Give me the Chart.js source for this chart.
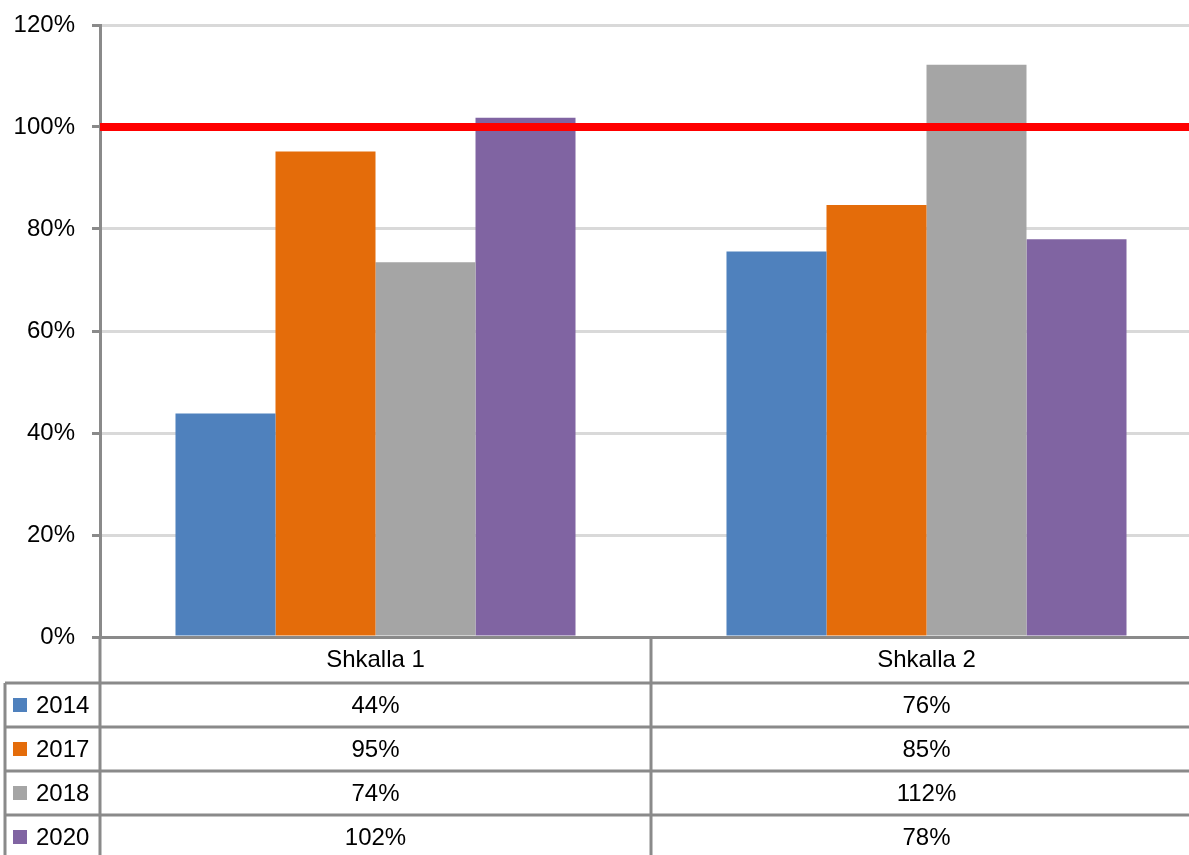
<!DOCTYPE html>
<html>
<head>
<meta charset="utf-8">
<script src="https://cdn.jsdelivr.net/npm/chart.js@4/dist/chart.umd.min.js"></script>
<style>
  html, body { margin: 0; padding: 0; background: #fff; overflow: hidden; }
  #wrap { width: 1202px; height: 855px; }
</style>
</head>
<body>
<div id="wrap"><canvas id="myChart"></canvas></div>
<script>
const categories = ['Shkalla 1', 'Shkalla 2'];
const years = ['2014', '2017', '2018', '2020'];
const values2014 = [0.438, 0.756];
const values2017 = [0.952, 0.847];
const values2018 = [0.735, 1.122];
const values2020 = [1.018, 0.78];
const yTicks = [0, 0.2, 0.4, 0.6, 0.8, 1.0, 1.2];
const targetValue = 1.0;

const colors = ['#4f81bd', '#e46c0a', '#a5a5a5', '#8064a2'];
const series = [values2014, values2017, values2018, values2020];
const FONT = '"Liberation Sans", Arial, sans-serif';
const pct = v => Math.round(v * 100) + '%';

// red target line across the plot
const targetLine = {
  id: 'targetLine',
  afterDatasetsDraw(chart) {
    const {ctx, chartArea, scales} = chart;
    const y = scales.y.getPixelForValue(targetValue);
    ctx.save();
    ctx.strokeStyle = '#ff0000';
    ctx.lineWidth = 8;
    ctx.beginPath();
    ctx.moveTo(chartArea.left, y);
    ctx.lineTo(chartArea.right, y);
    ctx.stroke();
    ctx.restore();
  }
};

// data table under the x axis
const dataTable = {
  id: 'dataTable',
  afterDraw(chart) {
    const {ctx, chartArea, scales} = chart;
    const x = scales.x;
    const top = chartArea.bottom;
    const headH = 46, rowH = 44;
    const left = chartArea.left;
    const right = chartArea.right;
    const half = (x.getPixelForValue(1) - x.getPixelForValue(0)) / 2;
    const bottom = top + headH + rowH * years.length;

    ctx.save();
    ctx.strokeStyle = '#8a8a8a';
    ctx.lineWidth = 3;
    ctx.beginPath();
    for (let i = 0; i < years.length; i++) {
      const y = top + headH + rowH * i;
      ctx.moveTo(5, y);
      ctx.lineTo(right, y);
    }
    ctx.moveTo(left, top);
    ctx.lineTo(left, bottom);
    ctx.moveTo(5, top + headH);
    ctx.lineTo(5, bottom);
    categories.forEach((c, i) => {
      if (i === 0) return;
      const xb = x.getPixelForValue(i) - half;
      ctx.moveTo(xb, top);
      ctx.lineTo(xb, bottom);
    });
    ctx.stroke();

    ctx.fillStyle = '#000';
    ctx.font = '24px ' + FONT;
    ctx.textAlign = 'center';
    ctx.textBaseline = 'middle';
    categories.forEach((c, i) => {
      ctx.fillText(c, x.getPixelForValue(i), top + headH / 2);
    });
    years.forEach((yr, r) => {
      const cy = top + headH + rowH * r + rowH / 2;
      ctx.fillStyle = colors[r];
      ctx.fillRect(13, cy - 7, 14, 14);
      ctx.fillStyle = '#000';
      ctx.textAlign = 'left';
      ctx.fillText(yr, 36, cy + 1);
      ctx.textAlign = 'center';
      series[r].forEach((v, i) => {
        ctx.fillText(pct(v), x.getPixelForValue(i), cy + 1);
      });
    });
    ctx.restore();
  }
};

new Chart(document.getElementById('myChart').getContext('2d'), {
  type: 'bar',
  data: {
    labels: categories,
    datasets: years.map((yr, i) => ({
      label: yr,
      data: series[i],
      backgroundColor: colors[i],
      borderWidth: 0,
      categoryPercentage: 0.726,
      barPercentage: 1.0
    }))
  },
  options: {
    responsive: true,
    maintainAspectRatio: false,
    animation: false,
    layout: { padding: { top: 25, right: 0, bottom: 210, left: 0 } },
    plugins: {
      legend: { display: false },
      tooltip: { enabled: false }
    },
    scales: {
      x: {
        ticks: { display: false },
        grid: { display: false },
        border: { display: true, color: '#8a8a8a', width: 3 }
      },
      y: {
        min: 0,
        max: 1.2,
        afterFit(scale) { scale.width = 100; },
        afterBuildTicks(scale) { scale.ticks = yTicks.map(v => ({value: v})); },
        ticks: {
          padding: 17,
          color: '#000',
          font: { family: FONT, size: 24, lineHeight: 0.5 },
          callback: v => pct(v)
        },
        grid: {
          color: '#d9d9d9',
          lineWidth: 3,
          tickColor: '#8a8a8a',
          tickLength: 8
        },
        border: { color: '#8a8a8a', width: 3 }
      }
    }
  },
  plugins: [targetLine, dataTable]
});
</script>
</body>
</html>
